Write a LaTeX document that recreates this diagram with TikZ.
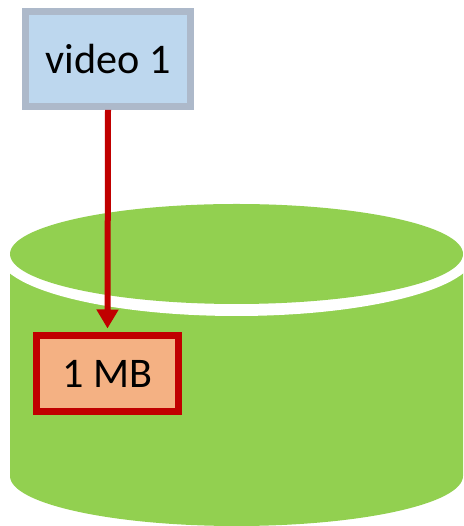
\documentclass[tikz,border=0pt]{standalone}
\usepackage{fontspec}
\setmainfont{Carlito}
\usetikzlibrary{arrows.meta}
\definecolor{cylgreen}{HTML}{92D050}
\definecolor{vidfill}{HTML}{BDD7EE}
\definecolor{vidline}{HTML}{ADB9CA}
\definecolor{mbfill}{HTML}{F4B183}
\definecolor{darkred}{HTML}{C00000}
\tikzset{
  videobox/.style={draw=vidline,fill=vidfill,line width=0.14cm,minimum width=3.3cm,minimum height=1.9cm,inner sep=0pt},
  sizebox/.style={draw=darkred,fill=mbfill,line width=0.14cm,minimum width=2.84cm,minimum height=1.52cm,inner sep=0pt}
}
\begin{document}
\begin{tikzpicture}[font=\fontsize{24}{29}\selectfont, >={Triangle[length=0.38cm,width=0.42cm]}]
	\useasboundingbox (0,0) rectangle (9.26,10.52);
	% cylinder
	\fill[cylgreen] (0.2,5.44) -- (0.2,1.0) arc[start angle=180,end angle=360,x radius=4.53,y radius=1.0] -- (9.26,5.44) -- cycle;
	\fill[white] (4.73,5.44) ellipse[x radius=4.77,y radius=1.24];
	\fill[cylgreen] (4.73,5.44) ellipse[x radius=4.53,y radius=1.0];
	% boxes
	\node[videobox] (video) at (2.16,9.34) {video 1};
	\node[sizebox] (mb) at (2.15,3.05) {1 MB};
	\draw[->,darkred,line width=0.12cm] (video.south) -- ([yshift=0.07cm]mb.north);
\end{tikzpicture}
\end{document}
